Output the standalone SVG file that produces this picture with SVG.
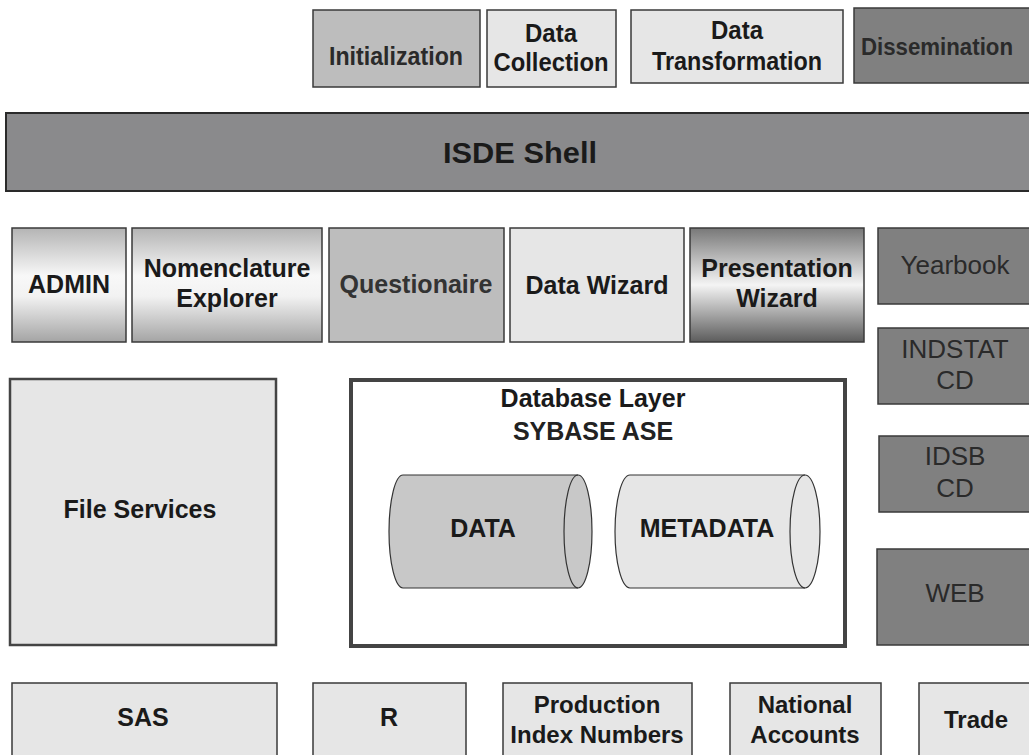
<svg xmlns="http://www.w3.org/2000/svg" width="1029" height="755" viewBox="0 0 1029 755">
<defs>
<linearGradient id="gLight" x1="0" y1="0" x2="0" y2="1">
<stop offset="0" stop-color="#b4b4b4"/>
<stop offset="0.42" stop-color="#f8f8f8"/>
<stop offset="0.6" stop-color="#f2f2f2"/>
<stop offset="1" stop-color="#a4a4a4"/>
</linearGradient>
<linearGradient id="gDark" x1="0" y1="0" x2="0" y2="1">
<stop offset="0" stop-color="#787878"/>
<stop offset="0.5" stop-color="#f4f4f4"/>
<stop offset="1" stop-color="#5c5c5c"/>
</linearGradient>
<style>
.box{stroke:#3a3a3a;stroke-width:1.5}
.lt{fill:#e6e6e6}
.md{fill:#bdbdbd}
.dk{fill:#808080}
.t{font-family:"Liberation Sans",Arial,sans-serif;font-weight:bold;font-size:25px;fill:#1a1a1a;text-anchor:middle}
.tn{font-family:"Liberation Sans",Arial,sans-serif;font-weight:bold;font-size:26px;fill:#1a1a1a;text-anchor:middle}
.tr{font-family:"Liberation Sans",Arial,sans-serif;font-weight:normal;font-size:26px;fill:#2a2a2a;text-anchor:middle}
.tb{font-size:24px}
.cyl{stroke:#333;stroke-width:1.2}
</style>
</defs>
<rect width="1029" height="755" fill="#ffffff"/>

<g id="initialization"><rect class="box md" x="313" y="10" width="167" height="77"/><text class="tn" x="396" y="65" textLength="134" lengthAdjust="spacingAndGlyphs" style="fill:#2a2a2a">Initialization</text></g>
<g id="data-collection"><rect class="box lt" x="487" y="10" width="129" height="77"/><text class="tn" x="551" y="42" textLength="52" lengthAdjust="spacingAndGlyphs">Data</text><text class="tn" x="551" y="71" textLength="115" lengthAdjust="spacingAndGlyphs">Collection</text></g>
<g id="data-transformation"><rect class="box lt" x="631" y="10" width="212" height="73"/><text class="tn" x="737" y="39" textLength="52" lengthAdjust="spacingAndGlyphs">Data</text><text class="tn" x="737" y="70" textLength="170" lengthAdjust="spacingAndGlyphs">Transformation</text></g>
<g id="dissemination"><rect class="box dk" x="854" y="8" width="178" height="75"/><text class="tn" x="937" y="55" textLength="152" lengthAdjust="spacingAndGlyphs" style="fill:#2a2a2a;font-size:24px">Dissemination</text></g>

<g id="isde-shell"><rect x="6" y="113" width="1035" height="78" fill="#8a8a8c" stroke="#2a2a2a" stroke-width="2"/><text class="t" x="520" y="163" style="font-size:30px" textLength="154" lengthAdjust="spacingAndGlyphs">ISDE Shell</text></g>

<g id="admin"><rect class="box" x="12" y="228" width="114" height="114" fill="url(#gLight)"/><text class="t" x="69" y="293">ADMIN</text></g>
<g id="nomenclature-explorer"><rect class="box" x="132" y="228" width="190" height="114" fill="url(#gLight)"/><text class="t" x="227" y="277">Nomenclature</text><text class="t" x="227" y="307">Explorer</text></g>
<g id="questionaire"><rect class="box md" x="329" y="228" width="175" height="114"/><text class="t" x="416" y="293" style="fill:#333">Questionaire</text></g>
<g id="data-wizard"><rect class="box lt" x="510" y="228" width="174" height="114"/><text class="t" x="597" y="294">Data Wizard</text></g>
<g id="presentation-wizard"><rect class="box" x="690" y="228" width="174" height="114" fill="url(#gDark)"/><text class="t" x="777" y="277">Presentation</text><text class="t" x="777" y="307">Wizard</text></g>

<g id="yearbook"><rect class="box dk" x="878" y="228" width="160" height="76"/><text class="tr" x="955" y="274">Yearbook</text></g>
<g id="indstat-cd"><rect class="box dk" x="878" y="328" width="160" height="76"/><text class="tr" x="955" y="358">INDSTAT</text><text class="tr" x="955" y="389">CD</text></g>
<g id="idsb-cd"><rect class="box dk" x="879" y="436" width="160" height="76"/><text class="tr" x="955" y="465">IDSB</text><text class="tr" x="955" y="497">CD</text></g>
<g id="web"><rect class="box dk" x="877" y="549" width="160" height="96"/><text class="tr" x="955" y="602">WEB</text></g>

<g id="file-services"><rect class="lt" x="10" y="379" width="266" height="266" stroke="#444" stroke-width="2.5"/><text class="t" x="140" y="518">File Services</text></g>

<g id="database-layer"><rect x="351" y="380" width="494" height="266" fill="#ffffff" stroke="#444" stroke-width="4"/><text class="t" x="593" y="407">Database Layer</text><text class="t" x="593" y="440" style="fill:#222">SYBASE ASE</text></g>

<g id="data">
<path class="cyl" d="M403,475 L578,475 A14,56.5 0 0 1 578,588 L403,588 A14,56.5 0 0 1 403,475 Z" fill="#c8c8c8"/>
<path class="cyl" d="M578,475 A14,56.5 0 0 0 578,588" fill="none"/>
<text class="t" x="483" y="537">DATA</text>
</g>
<g id="metadata">
<path class="cyl" d="M630,475 L805,475 A15,56.5 0 0 1 805,588 L630,588 A15,56.5 0 0 1 630,475 Z" fill="#e6e6e6"/>
<path class="cyl" d="M805,475 A15,56.5 0 0 0 805,588" fill="none"/>
<text class="t" x="707" y="537">METADATA</text>
</g>

<g id="sas"><rect class="box lt" x="12" y="683" width="265" height="80"/><text class="t" x="143" y="726">SAS</text></g>
<g id="r"><rect class="box lt" x="313" y="683" width="153" height="80"/><text class="t" x="389" y="726">R</text></g>
<g id="production-index-numbers"><rect class="box lt" x="503" y="683" width="189" height="80"/><text class="t tb" x="597" y="713">Production</text><text class="t tb" x="597" y="743">Index Numbers</text></g>
<g id="national-accounts"><rect class="box lt" x="730" y="683" width="151" height="80"/><text class="t tb" x="805" y="713">National</text><text class="t tb" x="805" y="743">Accounts</text></g>
<g id="trade"><rect class="box lt" x="919" y="683" width="120" height="80"/><text class="t tb" x="976" y="728">Trade</text></g>

<g id="connectors"></g>
</svg>
